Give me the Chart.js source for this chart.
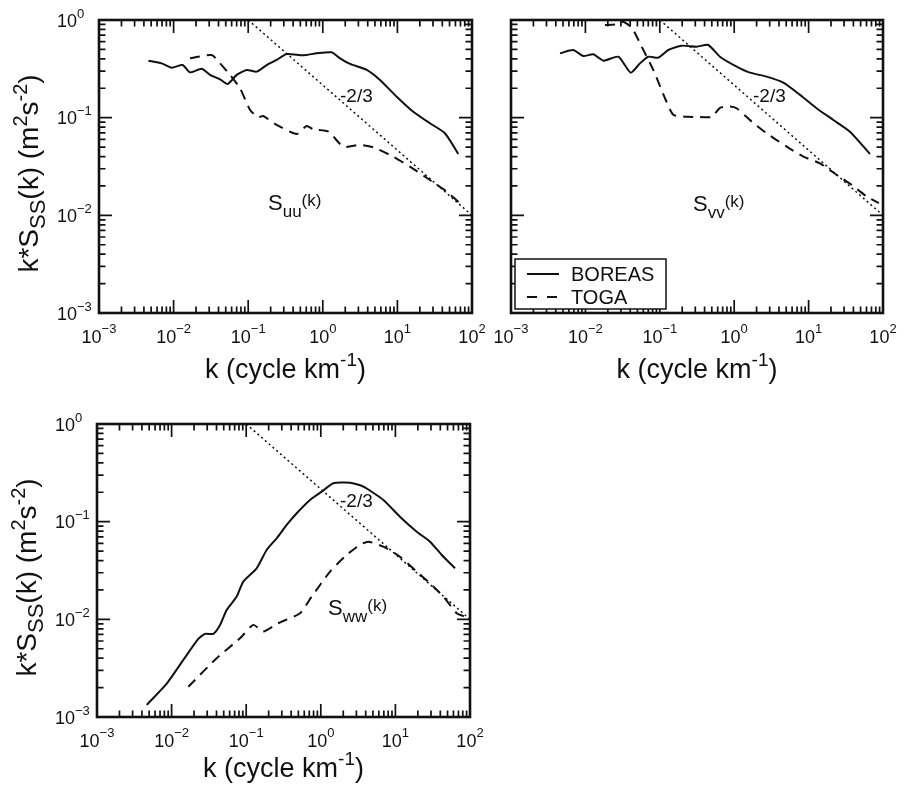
<!DOCTYPE html>
<html><head><meta charset="utf-8">
<script src="https://cdn.jsdelivr.net/npm/chart.js@4.4.1/dist/chart.umd.min.js"></script>
<style>
html,body{margin:0;padding:0;background:#fff;width:903px;height:788px;overflow:hidden}
canvas{position:absolute;left:0;top:0}
</style></head><body>
<canvas id="cu" width="903" height="788"></canvas>
<canvas id="cv" width="903" height="788"></canvas>
<canvas id="cw" width="903" height="788"></canvas>
<script>
// ---------- data ----------
const xTickValues = [0.001, 0.01, 0.1, 1, 10, 100];
const xTickExps   = ['\u22123', '\u22122', '\u22121', '0', '1', '2'];
const yTickValues = [0.001, 0.01, 0.1, 1];
const yTickExps   = ['\u22123', '\u22122', '\u22121', '0'];
const seriesNames = ['BOREAS', 'TOGA'];

const refK = [0.1, 100];
const refS = [1, 0.01];

const uBoreasK = [0.0046, 0.0069, 0.0094, 0.0132, 0.0166, 0.0238, 0.0308, 0.0419, 0.0531, 0.0701, 0.0955, 0.130, 0.177, 0.241, 0.328, 0.548, 0.828, 1.315, 1.70, 2.32, 3.88, 5.84, 9.79, 16.3, 27.3, 43.4, 65.5];
const uBoreasS = [0.383, 0.360, 0.325, 0.346, 0.291, 0.316, 0.274, 0.247, 0.221, 0.274, 0.308, 0.296, 0.346, 0.390, 0.449, 0.435, 0.456, 0.467, 0.405, 0.355, 0.308, 0.243, 0.164, 0.115, 0.0877, 0.0692, 0.0425];
const uTogaK = [0.0166, 0.0324, 0.0419, 0.057, 0.0776, 0.106, 0.136, 0.159, 0.241, 0.447, 0.607, 0.746, 1.19, 1.88, 3.15, 4.75, 8.81, 14.7, 27.3, 45.7, 72.7];
const uTogaS = [0.405, 0.438, 0.360, 0.274, 0.200, 0.120, 0.101, 0.104, 0.0842, 0.0681, 0.0822, 0.076, 0.0719, 0.0505, 0.0526, 0.0497, 0.0399, 0.0315, 0.0230, 0.0175, 0.0128];

const vBoreasK = [0.00456, 0.00687, 0.00937, 0.0128, 0.0174, 0.0277, 0.0406, 0.0542, 0.070, 0.0955, 0.130, 0.196, 0.313, 0.449, 0.644, 1.08, 1.63, 2.73, 4.57, 7.66, 12.8, 21.5, 36.0, 66.8];
const vBoreasS = [0.456, 0.493, 0.428, 0.446, 0.383, 0.421, 0.289, 0.360, 0.421, 0.412, 0.493, 0.546, 0.533, 0.555, 0.421, 0.333, 0.289, 0.263, 0.228, 0.171, 0.125, 0.0947, 0.0719, 0.0425];
const vTogaK = [0.0183, 0.0258, 0.032, 0.0423, 0.0571, 0.0818, 0.1175, 0.152, 0.230, 0.316, 0.499, 0.644, 0.879, 1.09, 1.72, 2.73, 5.08, 8.50, 14.2, 23.9, 37.9, 60.4, 88];
const vTogaS = [0.89, 0.90, 0.96, 0.828, 0.533, 0.308, 0.158, 0.107, 0.102, 0.1017, 0.102, 0.126, 0.130, 0.124, 0.091, 0.0692, 0.0505, 0.0399, 0.0341, 0.0259, 0.0205, 0.0156, 0.0133];

const wBoreasK = [0.00464, 0.0086, 0.01436, 0.0228, 0.0281, 0.0362, 0.0446, 0.0547, 0.0746, 0.0914, 0.138, 0.188, 0.256, 0.349, 0.475, 0.717, 1.03, 1.47, 2.46, 3.72, 6.89, 11.5, 19.3, 29.1, 41.8, 63.0];
const wBoreasS = [0.00133, 0.0022, 0.00384, 0.0063, 0.0071, 0.0071, 0.00877, 0.01248, 0.0171, 0.0243, 0.0333, 0.0513, 0.0676, 0.0925, 0.122, 0.167, 0.203, 0.247, 0.251, 0.228, 0.167, 0.1125, 0.079, 0.0624, 0.0456, 0.0333];
const wTogaK = [0.01675, 0.0402, 0.0826, 0.1245, 0.169, 0.269, 0.526, 0.755, 1.33, 2.22, 3.35, 4.33, 6.89, 11.5, 19.3, 29.1, 44.0, 66.4, 85.7];
const wTogaS = [0.00204, 0.0040, 0.0064, 0.00877, 0.00749, 0.00912, 0.01154, 0.0171, 0.0308, 0.0456, 0.0578, 0.0624, 0.0554, 0.0438, 0.0308, 0.0234, 0.0171, 0.01154, 0.01066];

// ---------- helpers ----------
const FONT = '"Liberation Sans", Arial, Helvetica, sans-serif';
const INK = '#111';
function pts(ks, ss) { return ks.map((k, i) => ({x: k, y: ss[i]})); }

function drawRich(ctx, parts, x, y, align) {
  let w = 0;
  for (const p of parts) { ctx.font = p[1] + 'px ' + FONT; w += ctx.measureText(p[0]).width; }
  let cx = align === 'center' ? x - w / 2 : (align === 'right' ? x - w : x);
  ctx.textAlign = 'left';
  ctx.textBaseline = 'alphabetic';
  for (const p of parts) {
    ctx.font = p[1] + 'px ' + FONT;
    ctx.fillText(p[0], cx, y + (p[2] || 0));
    cx += ctx.measureText(p[0]).width;
  }
}

const panelPlugin = {
  id: 'panel',
  afterDatasetsDraw(chart, args, o) {
    const ctx = chart.ctx, a = chart.chartArea;
    const xs = chart.scales.x, ys = chart.scales.y;
    ctx.save();
    ctx.fillStyle = INK; ctx.strokeStyle = INK;
    // ticks (inward, all four sides)
    const MAJ = 13, MIN = 6.5;
    ctx.lineWidth = 1.7;
    ctx.beginPath();
    for (let d = 0; d < xTickValues.length; d++) {
      const base = xTickValues[d];
      for (let m = 1; m <= 9; m++) {
        const v = base * m;
        if (v > xTickValues[xTickValues.length - 1] + 1e-9) break;
        const px = xs.getPixelForValue(v);
        const L = m === 1 ? MAJ : MIN;
        ctx.moveTo(px, a.bottom); ctx.lineTo(px, a.bottom - L);
        ctx.moveTo(px, a.top); ctx.lineTo(px, a.top + L);
      }
    }
    for (let d = 0; d < yTickValues.length; d++) {
      const base = yTickValues[d];
      for (let m = 1; m <= 9; m++) {
        const v = base * m;
        if (v > yTickValues[yTickValues.length - 1] + 1e-9) break;
        const py = ys.getPixelForValue(v);
        const L = m === 1 ? MAJ : MIN;
        ctx.moveTo(a.left, py); ctx.lineTo(a.left + L, py);
        ctx.moveTo(a.right, py); ctx.lineTo(a.right - L, py);
      }
    }
    ctx.stroke();
    // frame
    ctx.lineWidth = 2.6;
    ctx.strokeRect(a.left, a.top, a.right - a.left, a.bottom - a.top);

    // x tick labels
    xTickValues.forEach((v, i) => {
      const px = xs.getPixelForValue(v);
      drawRich(ctx, [['10', 18, 0], [xTickExps[i], 13, -10]], px, a.bottom + 30, 'center');
    });
    // y tick labels
    if (o.yLabels) {
      yTickValues.forEach((v, i) => {
        const py = ys.getPixelForValue(v);
        drawRich(ctx, [['10', 18, 0], [yTickExps[i], 13, -9]], a.left - 42, py + 6.5, 'left');
      });
      // y title
      ctx.save();
      ctx.translate(a.left - 61, (a.top + a.bottom) / 2 + 7);
      ctx.rotate(-Math.PI / 2);
      drawRich(ctx, [['k*S', 28, 0], ['SS', 22, 7], ['(k) (m', 28, 0], ['2', 20, -11], ['s', 28, 0], ['-2', 20, -11], [')', 28, 0]], 0, 0, 'center');
      ctx.restore();
    }
    // x title
    drawRich(ctx, [['k (cycle km', 27, 0], ['-1', 19, -12], [')', 27, 0]], (a.left + a.right) / 2, a.bottom + o.xTitleDy, 'center');

    // annotations
    drawRich(ctx, [['-2/3', 19, 0]], a.left + o.slope[0], a.top + o.slope[1], 'left');
    drawRich(ctx, [['S', 22, 0], [o.sub, 17, 7], ['(k)', 17, -4]], a.left + o.lab[0], a.top + o.lab[1], 'left');

    // legend
    if (o.legend) {
      const lx = a.left + 4, ly = a.bottom - 54, lw = 151, lh = 50;
      ctx.fillStyle = '#fff';
      ctx.fillRect(lx, ly, lw, lh);
      ctx.lineWidth = 1.5; ctx.strokeStyle = INK;
      ctx.strokeRect(lx, ly, lw, lh);
      ctx.fillStyle = INK;
      ctx.lineWidth = 2;
      ctx.beginPath(); ctx.moveTo(lx + 12, ly + 15); ctx.lineTo(lx + 44, ly + 15); ctx.stroke();
      ctx.setLineDash([10, 10]);
      ctx.beginPath(); ctx.moveTo(lx + 12, ly + 38); ctx.lineTo(lx + 44, ly + 38); ctx.stroke();
      ctx.setLineDash([]);
      ctx.font = '20px ' + FONT; ctx.textAlign = 'left'; ctx.textBaseline = 'alphabetic';
      ctx.fillText(seriesNames[0], lx + 56, ly + 22);
      ctx.fillText(seriesNames[1], lx + 56, ly + 45);
    }
    ctx.restore();
  }
};

function makeChart(id, area, bK, bS, tK, tS, panelOpts) {
  return new Chart(document.getElementById(id), {
    type: 'line',
    data: {
      datasets: [
        {label: seriesNames[0], data: pts(bK, bS), borderColor: INK, borderWidth: 2, pointRadius: 0, tension: 0.2, fill: false},
        {label: seriesNames[1], data: pts(tK, tS), borderColor: INK, borderWidth: 2, borderDash: [10, 7], pointRadius: 0, tension: 0.2, fill: false},
        {label: '-2/3', data: pts(refK, refS), borderColor: INK, borderWidth: 1.5, borderDash: [2, 3], pointRadius: 0, tension: 0, fill: false}
      ]
    },
    options: {
      responsive: false,
      animation: false,
      events: [],
      layout: {padding: {left: area[0], top: area[1], right: 903 - area[2], bottom: 788 - area[3]}},
      scales: {
        x: {type: 'logarithmic', min: 0.001, max: 100, display: false},
        y: {type: 'logarithmic', min: 0.001, max: 1, display: false}
      },
      plugins: {legend: {display: false}, tooltip: {enabled: false}, panel: panelOpts}
    },
    plugins: [panelPlugin]
  });
}

makeChart('cu', [99, 20, 472, 313], uBoreasK, uBoreasS, uTogaK, uTogaS,
  {yLabels: true, legend: false, xTitleDy: 65, slope: [241, 82], lab: [169, 190], sub: 'uu'});
makeChart('cv', [511, 20, 883, 313], vBoreasK, vBoreasS, vTogaK, vTogaS,
  {yLabels: false, legend: true, xTitleDy: 65, slope: [242, 82], lab: [182, 191], sub: 'vv'});
makeChart('cw', [97, 424, 470, 717], wBoreasK, wBoreasS, wTogaK, wTogaS,
  {yLabels: true, legend: false, xTitleDy: 60, slope: [243, 83], lab: [231, 191], sub: 'ww'});
</script>
</body></html>
